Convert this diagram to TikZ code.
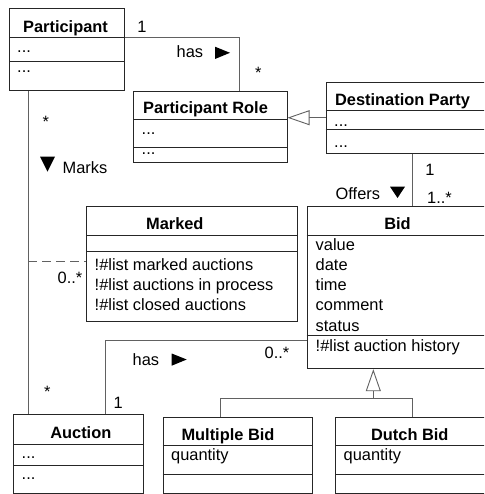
\documentclass[tikz,border=0pt]{standalone}
\usepackage{fontspec}
\setmainfont{Liberation Sans}
\usetikzlibrary{arrows.meta}
\newcommand\divline[2]{\draw[div] (#1.west |- 0,#2) -- (#1.east |- 0,#2);}
\begin{document}
\fontsize{16.4}{19}\selectfont
\begin{tikzpicture}[x=1pt,y=-1pt,
  box/.style={draw=black!85, line width=0.9pt, fill=white, inner sep=0, anchor=north west},
  div/.style={draw=black!85, line width=0.9pt},
  conn/.style={draw=black!62, line width=0.9pt},
  gentip/.style={-{Triangle[open,length=22pt,width=15pt,fill=white]}},
  ttl/.style={inner sep=0, anchor=base, font=\bfseries},
  txt/.style={inner sep=0, anchor=base west},
  mult/.style={inner sep=0, anchor=base},
  tri/.style={fill=black}]
\useasboundingbox (0,0) rectangle (484,494);
\clip (0,0) rectangle (484,494);

% boxes (drawn as named nodes)
\node[box, minimum width=115.3pt, minimum height=82pt] (participant) at (9,8) {};
\node[box, minimum width=153.4pt, minimum height=71.6pt] (role) at (133.3,90.7) {};
\node[box, minimum width=170pt, minimum height=71.6pt] (dest) at (325.7,81.7) {};
\node[box, minimum width=210.7pt, minimum height=115pt] (marked) at (86,205.7) {};
\node[box, minimum width=190pt, minimum height=162.6pt] (bid) at (306.7,205.7) {};
\node[box, minimum width=130pt, minimum height=79pt] (auction) at (13.3,414.3) {};
\node[box, minimum width=149pt, minimum height=76.6pt] (multiple) at (162.7,416.7) {};
\node[box, minimum width=160pt, minimum height=76.6pt] (dutch) at (335,416.7) {};

\divline{participant}{37.3}\divline{participant}{61.7}
\divline{role}{119.3}\divline{role}{147}
\divline{dest}{110}\divline{dest}{129.3}
\divline{marked}{235}\divline{marked}{251}
\divline{bid}{235.7}\divline{bid}{335.7}
\divline{auction}{444}\divline{auction}{465.7}
\divline{multiple}{445.7}\divline{multiple}{474}
\divline{dutch}{445.7}\divline{dutch}{474}

% connectors
\draw[conn] (participant.east |- 0,37.3) -| (role.north -| 239,0);
\draw[conn, gentip] (dest.west |- 0,117.7) -- (role.east |- 0,117.7);
\draw[conn] (dest.south -| 412.3,0) -- (bid.north -| 412.3,0);
\draw[conn] (participant.south -| 28,0) -- (auction.north -| 28,0);
\coordinate (mk) at (28,261.7);
\draw[conn, dash pattern=on 9pt off 5pt] (mk) -- (marked.west |- mk);
\draw[conn] (auction.north -| 105,0) |- (bid.west |- 0,340);
\coordinate (gj) at (373.3,398.3);
\draw[conn] (multiple.north -| 220,0) |- (gj) -| (dutch.north -| 412.3,0);
\draw[conn, gentip] (gj) -- (bid.south -| gj);

% titles
\node[ttl] (tpart) at (65.5,32.3) {Participant};
\node[ttl] (trole) at (205.5,113.3) {Participant Role};
\node[ttl] (tdest) at (402.5,105.7) {Destination Party};
\node[ttl] (tmarked) at (174.8,229) {Marked};
\node[ttl] (tbid) at (397.5,229) {Bid};
\node[ttl] (tauction) at (80.8,438.3) {Auction};
\node[ttl] (tmultiple) at (228,440.7) {Multiple Bid};
\node[ttl] (tdutch) at (409.8,440.7) {Dutch Bid};

% attributes / operations
\node[txt] (pa1) at (17,53) {...};
\node[txt] (pa2) at (17,73) {...};
\node[txt] (ra1) at (141.5,134.5) {...};
\node[txt] (ra2) at (141.5,155) {...};
\node[txt] (da1) at (334,126.5) {...};
\node[txt] (da2) at (334,148) {...};
\node[txt] (aa1) at (21.5,458) {...};
\node[txt] (aa2) at (21.5,479.5) {...};
\node[txt] (mo1) at (94.5,270) {!\#list marked auctions};
\node[txt] (mo2) at (94.5,290.3) {!\#list auctions in process};
\node[txt] (mo3) at (94.5,310.5) {!\#list closed auctions};
\node[txt] (ba1) at (315.5,250) {value};
\node[txt] (ba2) at (315.5,270.2) {date};
\node[txt] (ba3) at (315.5,290.5) {time};
\node[txt] (ba4) at (315.5,310.7) {comment};
\node[txt] (ba5) at (315.5,331) {status};
\node[txt] (bo1) at (315.5,351) {!\#list auction history};
\node[txt] (mq) at (171,460) {quantity};
\node[txt] (dq) at (343.5,460) {quantity};

% association labels and multiplicities
\node[mult] (m1) at (142,32.3) {1};
\node[txt] (has1) at (176.5,57.3) {has};
\fill[tri] (215,46.7) -- (230,52.8) -- (215,59) -- cycle;
\node[mult] (m2) at (258.3,79) {*};
\node[mult] (m3) at (45.7,128) {*};
\fill[tri] (40,156.7) -- (55,156.7) -- (47.5,171.7) -- cycle;
\node[txt] (marks) at (62.5,173.3) {Marks};
\node[mult] (m4) at (430,175.7) {1};
\node[txt] (offers) at (335.5,200) {Offers};
\fill[tri] (390,186.7) -- (405,186.7) -- (397.5,198) -- cycle;
\node[txt] (m5) at (427,204) {1..*};
\node[txt] (m6) at (57.5,283.3) {0..*};
\node[txt] (m7) at (264.5,358.3) {0..*};
\node[txt] (has2) at (132.5,365.7) {has};
\fill[tri] (171.7,353.5) -- (186.7,359.5) -- (171.7,365.7) -- cycle;
\node[mult] (m8) at (118.3,408.3) {1};
\node[mult] (m9) at (47.3,397.5) {*};
\end{tikzpicture}
\end{document}
